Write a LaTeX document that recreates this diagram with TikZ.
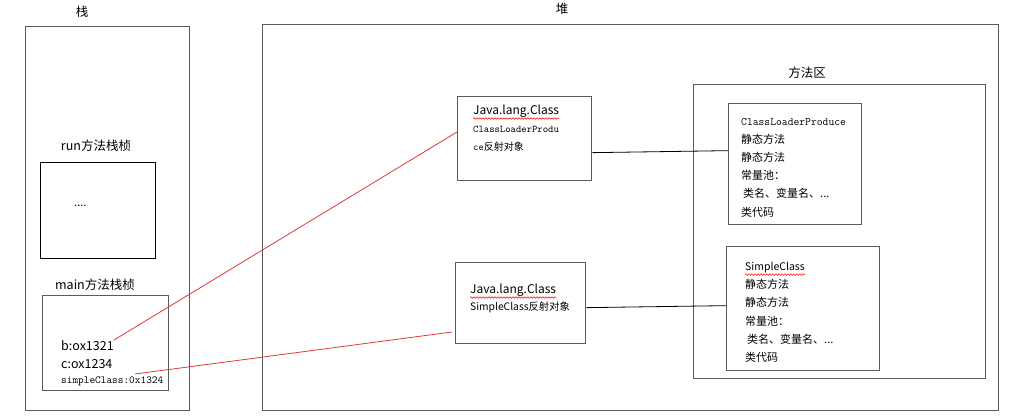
\documentclass[tikz,border=0pt]{standalone}
\usepackage{fontspec}
\setmainfont{Noto Sans CJK SC}
\setmonofont{Latin Modern Mono}
\usetikzlibrary{decorations.pathmorphing}
\definecolor{boxgray}{HTML}{5A5A5A}
\definecolor{linkred}{HTML}{E03A3A}
\tikzset{
  box/.style={draw=boxgray, line width=1.3pt, fill=white, anchor=north west, inner sep=0pt},
  blackbox/.style={draw=black, line width=1.1pt, fill=white, anchor=north west, inner sep=0pt},
  lbl/.style={font=\fontsize{12.5}{14}\selectfont, inner sep=0pt},
  txt/.style={font=\fontsize{11}{13}\selectfont, anchor=west, inner sep=0pt},
  ltxt/.style={font=\fontsize{12.5}{14}\selectfont, anchor=west, inner sep=0pt},
  stxt/.style={font=\fontsize{10.3}{12}\selectfont, anchor=west, inner sep=0pt},
  mono/.style={font=\fontsize{11.3}{13}\selectfont\ttfamily, anchor=west, inner sep=0pt},
  redlink/.style={draw=linkred, line width=0.8pt},
  blacklink/.style={draw=black, line width=0.8pt},
  squig/.style={draw=red, line width=0.5pt, decorate, decoration={snake, amplitude=0.8pt, segment length=3pt}}
}
\begin{document}
\begin{tikzpicture}[x=1pt,y=-1pt]
\useasboundingbox[fill=white] (0,0) rectangle (1019,418);

% stack
\node[box, minimum width=164pt, minimum height=384pt] (stack) at (25,26) {};
\node[lbl] (stacklbl) at (82,12) {栈};
\node[lbl] (runlbl) at (96,146) {run方法栈桢};
\node[blackbox, minimum width=115pt, minimum height=96pt] (run) at (40,162) {};
\node[txt] (dots) at (74,206) {....};
\node[lbl] (mainlbl) at (95,285) {main方法栈桢};
\node[box, minimum width=126pt, minimum height=95pt] (main) at (42,295) {};
\node[ltxt] (bvar) at (61,346) {b:ox1321};
\node[ltxt] (cvar) at (61,364) {c:ox1234};
\node[mono, font=\fontsize{10.8}{12}\selectfont\ttfamily] (svar) at (61,381) {simpleClass:0x1324};

% heap
\node[box, minimum width=736pt, minimum height=386pt] (heap) at (262,24) {};
\node[lbl] (heaplbl) at (562,9) {堆};

% class objects
\node[box, minimum width=134pt, minimum height=84pt] (cls1) at (457,96) {};
\node[ltxt, font=\fontsize{12}{14}\selectfont] (c1a) at (473,111) {Java.lang.Class};
\node[mono, font=\fontsize{10.2}{12}\selectfont\ttfamily] (c1b) at (473,129) {ClassLoaderProdu};
\node[mono, font=\fontsize{10.2}{12}\selectfont\ttfamily] (c1c) at (473,147) {ce\rmfamily\fontsize{10}{12}\selectfont 反射对象};
\draw[squig] ([yshift=-1pt]c1a.south west) -- ([yshift=-1pt]c1a.south east);

\node[box, minimum width=130pt, minimum height=81pt] (cls2) at (455,262) {};
\node[ltxt, font=\fontsize{12}{14}\selectfont] (c2a) at (470,290) {Java.lang.Class};
\node[stxt] (c2b) at (470,307) {SimpleClass反射对象};
\draw[squig] ([yshift=-1pt]c2a.south west) -- ([yshift=-1pt]c2a.south east);

% method area
\node[box, minimum width=292pt, minimum height=294pt] (marea) at (693,84) {};
\node[lbl] (marealbl) at (807,73) {方法区};

\node[box, minimum width=133pt, minimum height=121pt] (m1) at (728,103) {};
\node[mono] (m1a) at (741,122) {ClassLoaderProduce};
\node[txt] (m1b) at (741,139) {静态方法};
\node[txt] (m1c) at (741,157) {静态方法};
\node[txt] (m1d) at (741,175) {常量池：};
\node[txt] (m1e) at (743,193) {类名、变量名、...};
\node[txt] (m1f) at (741,212) {类代码};

\node[box, minimum width=153pt, minimum height=124pt] (m2) at (726,246) {};
\node[stxt, font=\fontsize{10.5}{12}\selectfont] (m2a) at (745,268) {SimpleClass};
\node[txt] (m2b) at (745,284) {静态方法};
\node[txt] (m2c) at (745,302) {静态方法};
\node[txt] (m2d) at (745,321) {常量池：};
\node[txt] (m2e) at (747,339) {类名、变量名、...};
\node[txt] (m2f) at (745,357) {类代码};
\draw[squig] ([yshift=-1pt]m2a.south west) -- ([yshift=-1pt]m2a.south east);

% links
\coordinate (r1s) at (114,340);
\coordinate (r1e) at (457,132);
\coordinate (r2s) at (135,374);
\coordinate (r2e) at (452,332);
\draw[redlink] (r1s) -- (r1e);
\draw[redlink] (r2s) -- (r2e);
\draw[blacklink] ([yshift=-14pt]cls1.east) -- ([yshift=-12pt]cls1.east -| m1.west);
\draw[blacklink] ([yshift=-4.5pt]cls2.east) -- ([yshift=-2.5pt]cls2.east -| m2.west);
\end{tikzpicture}
\end{document}
